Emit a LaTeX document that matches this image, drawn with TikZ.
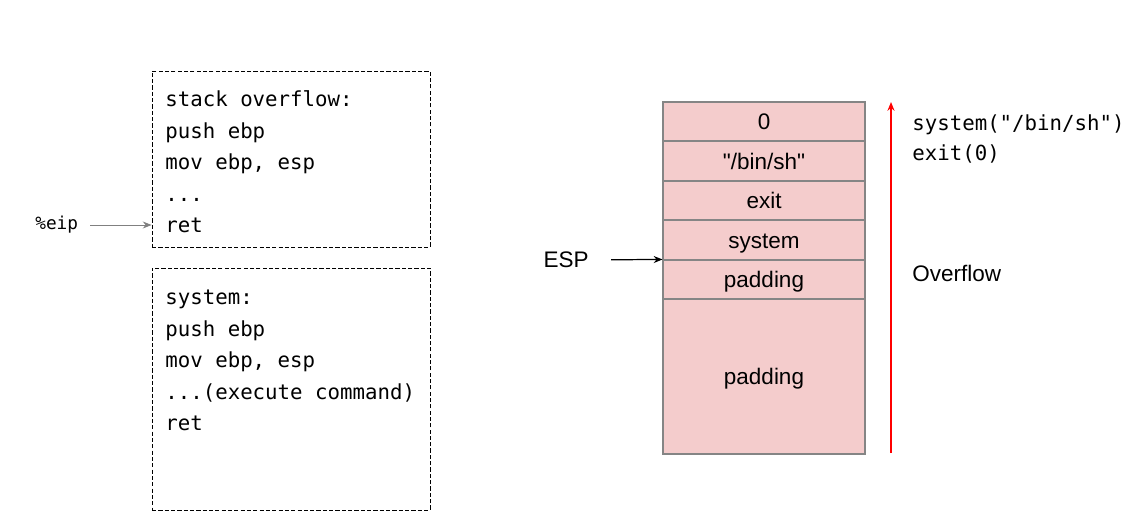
\documentclass[tikz,border=0pt]{standalone}
\usepackage{fontspec}
\setmonofont{DejaVu Sans Mono}
\setsansfont{Liberation Sans}[Ligatures=TeXOff]
\usetikzlibrary{arrows.meta}
\definecolor{cellred}{HTML}{F4CCCC}
\definecolor{cellline}{HTML}{858585}
\begin{document}
\begin{tikzpicture}[codebox/.style={draw, dash pattern=on 2.4pt off 1.2pt, line width=0.5pt, minimum width=5.56cm, inner sep=0pt},
  code/.style={anchor=north west, align=left, inner sep=0pt, font=\ttfamily\fontsize{11.8}{17.9}\selectfont},
  cell/.style={draw=cellline, fill=cellred, line width=0.6pt, minimum width=4.04cm, inner sep=0pt, text height=0.94em, text depth=0pt, font=\sffamily\fontsize{12.8}{15}\selectfont},
  ptr/.style={-{Stealth[length=5pt,width=4pt]}, line width=0.7pt}]
      \useasboundingbox (0,0) rectangle (22.68,-10.48);

      % left: the two code listings
      \node[codebox, minimum height=3.52cm] (box1) at (5.82, -3.18) {};
      \node[codebox, minimum height=4.84cm] (box2) at (5.82, -7.78) {};
      \node[code] (code1) at (3.30, -1.69) {\strut stack overflow:\\push ebp\\mov ebp, esp\\...\\ret};
      \node[code] (code2) at (3.30, -5.65) {\strut system:\\push ebp\\mov ebp, esp\\...(execute command)\\ret};
      \node[anchor=west, inner sep=0pt, font=\ttfamily\fontsize{10.1}{12}\selectfont] (eip) at (0.70, -4.50) {\%eip};
      \draw[ptr, draw=gray, fill=gray, line width=0.5pt, shorten <=0.24cm] (eip) -- (eip -| box1.west);

      % right: the stack
      \node[cell, minimum height=0.78cm] (zero) at (15.28, -2.43) {0};
      \node[cell, minimum height=0.80cm] (binsh) at (15.28, -3.22) {"/bin/sh"};
      \node[cell, minimum height=0.78cm] (exit) at (15.28, -4.01) {exit};
      \node[cell, minimum height=0.80cm] (system) at (15.28, -4.80) {system};
      \node[cell, minimum height=0.78cm] (pad1) at (15.28, -5.59) {padding};
      \node[cell, minimum height=3.10cm] (pad2) at (15.28, -7.53) {padding};

      \node[anchor=east, inner sep=0pt, font=\sffamily\fontsize{12.8}{15}\selectfont] (esp) at (11.78, -5.20) {ESP};
      \draw[ptr, shorten <=0.44cm] (esp) -- (pad1.north west);

      \coordinate (low) at (17.82, -9.06);
      \coordinate (high) at (17.82, -2.04);
      \draw[ptr, red, line width=1pt] (low) -- (high);

      \node[code, font=\ttfamily\fontsize{11.8}{17}\selectfont] (call) at (18.24, -2.18) {\strut system("/bin/sh")\\exit(0)};
      \node[anchor=west, inner sep=0pt, font=\sffamily\fontsize{12.8}{15}\selectfont] (over) at (18.24, -5.46) {Overflow};
    \end{tikzpicture}
\end{document}
